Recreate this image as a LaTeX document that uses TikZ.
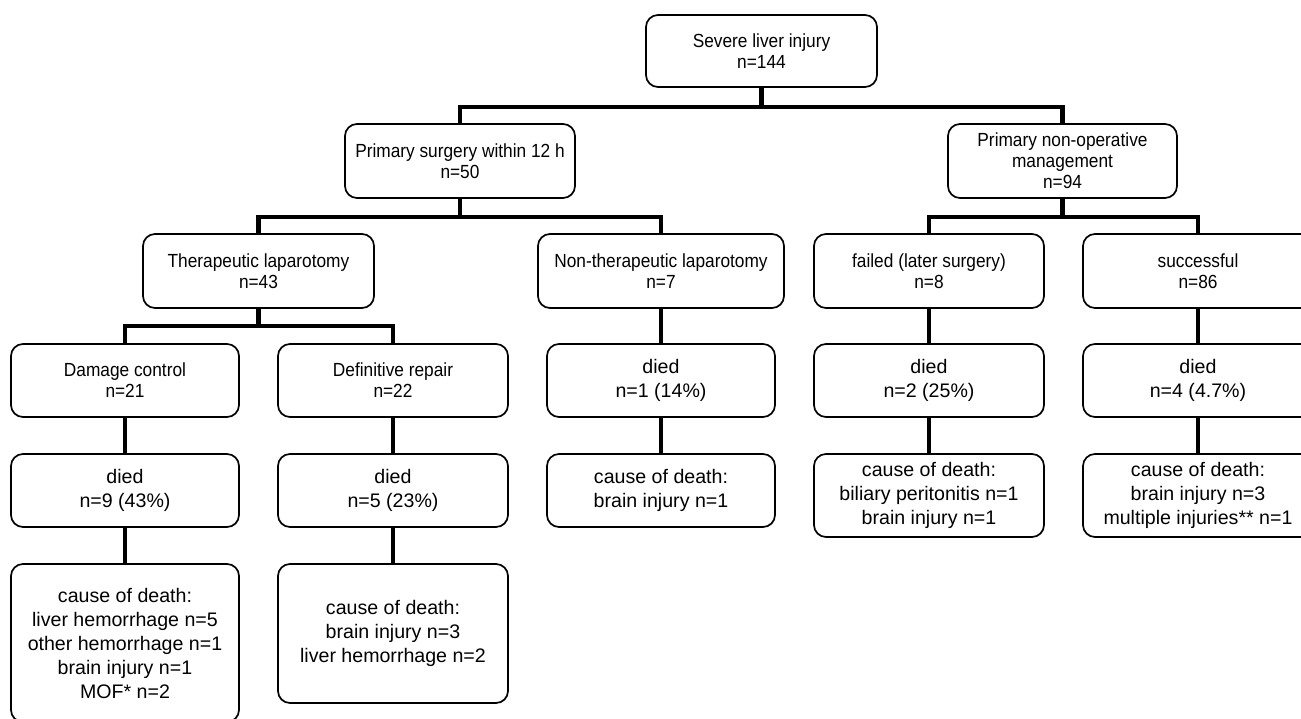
\documentclass[tikz,border=0pt]{standalone}
\usepackage{fontspec}
\setmainfont{Liberation Sans}
\newfontfamily\upf[FakeStretch=0.91]{Liberation Sans}
\begin{document}
\begin{tikzpicture}[x=1pt,y=-1pt,
  box/.style={draw, line width=1.7pt, rounded corners=12pt, align=center, inner sep=0pt},
  upbox/.style={box, font=\upf\fontsize{19}{21}\selectfont},
  lowbox/.style={box, font=\fontsize{19.6}{24}\selectfont},
  conn/.style={line width=4.6pt}]
\fill[white] (0,0) rectangle (1301,718);
\useasboundingbox (0,0) rectangle (1301,718);
\clip (0,0) rectangle (1301,718);
% level 1
\node[upbox, minimum width=231pt, minimum height=72pt] (top) at (761.5,51) {Severe liver injury\\n=144};
% level 2
\node[upbox, minimum width=230pt, minimum height=74pt] (surg) at (460,161) {Primary surgery within 12 h\\n=50};
\node[upbox, minimum width=229pt, minimum height=74pt] (nonop) at (1062.5,161) {Primary non-operative\\management\\n=94};
% level 3
\node[upbox, minimum width=231pt, minimum height=74pt] (ther) at (258.5,271) {Therapeutic laparotomy\\n=43};
\node[upbox, minimum width=246pt, minimum height=74pt] (nonther) at (661,271) {Non-therapeutic laparotomy\\n=7};
\node[upbox, minimum width=230pt, minimum height=74pt] (failed) at (929,271) {failed (later surgery)\\n=8};
\node[upbox, minimum width=230pt, minimum height=74pt] (succ) at (1198,271) {successful\\n=86};
% level 4
\node[upbox, minimum width=228pt, minimum height=73pt] (dc) at (125,380.5) {Damage control\\n=21};
\node[upbox, minimum width=230pt, minimum height=73pt] (dr) at (393,380.5) {Definitive repair\\n=22};
\node[lowbox, minimum width=228pt, minimum height=73pt] (diednt) at (661,380.5) {died\\n=1 (14\%)};
\node[lowbox, minimum width=230pt, minimum height=73pt] (diedf) at (929,380.5) {died\\n=2 (25\%)};
\node[lowbox, minimum width=230pt, minimum height=73pt] (dieds) at (1198,380.5) {died\\n=4 (4.7\%)};
% level 5
\node[lowbox, minimum width=228pt, minimum height=73pt] (dieddc) at (125,490.5) {died\\n=9 (43\%)};
\node[lowbox, minimum width=230pt, minimum height=73pt] (dieddr) at (393,490.5) {died\\n=5 (23\%)};
\node[lowbox, minimum width=228pt, minimum height=73pt] (causent) at (661,490.5) {cause of death:\\brain injury n=1};
\node[lowbox, minimum width=230pt, minimum height=83pt] (causef) at (929,495.5) {cause of death:\\biliary peritonitis n=1\\brain injury n=1};
\node[lowbox, minimum width=230pt, minimum height=83pt] (causes) at (1198,495.5) {cause of death:\\brain injury n=3\\multiple injuries** n=1};
% level 6
\node[lowbox, minimum width=228pt, minimum height=158pt] (causedc) at (125,643) {cause of death:\\liver hemorrhage n=5\\other hemorrhage n=1\\brain injury n=1\\MOF* n=2};
\node[lowbox, minimum width=230pt, minimum height=139pt] (causedr) at (393,633.5) {cause of death:\\brain injury n=3\\liver hemorrhage n=2};
% connectors
\draw[conn] (top.south) -- ++(0,21);
\draw[conn] (surg.north) -- ++(0,-16) -| (nonop.north);
\draw[conn] (surg.south) -- ++(0,20);
\draw[conn] (ther.north) -- ++(0,-16) -| (nonther.north);
\draw[conn] (nonop.south) -- ++(0,20);
\draw[conn] (failed.north) -- ++(0,-16) -| (succ.north);
\draw[conn] (ther.south) -- ++(0,19);
\draw[conn] (dc.north) -- ++(0,-17) -| (dr.north);
\draw[conn] (nonther.south) -- (diednt.north);
\draw[conn] (failed.south) -- (diedf.north);
\draw[conn] (succ.south) -- (dieds.north);
\draw[conn] (dc.south) -- (dieddc.north);
\draw[conn] (dr.south) -- (dieddr.north);
\draw[conn] (diednt.south) -- (causent.north);
\draw[conn] (diedf.south) -- (causef.north);
\draw[conn] (dieds.south) -- (causes.north);
\draw[conn] (dieddc.south) -- (causedc.north);
\draw[conn] (dieddr.south) -- (causedr.north);
\end{tikzpicture}
\end{document}
